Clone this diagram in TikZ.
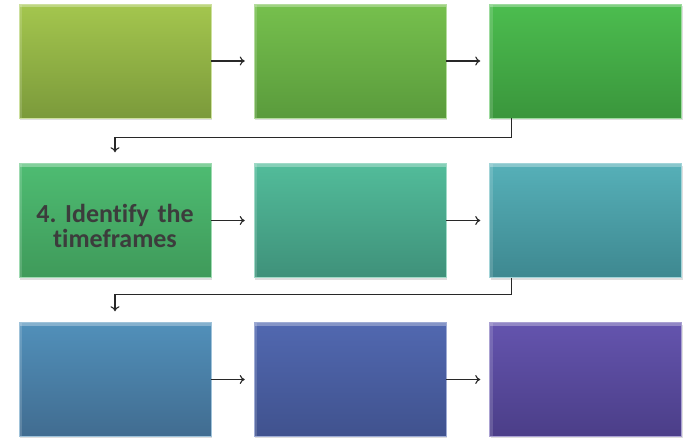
\documentclass[tikz,border=0pt]{standalone}
\usepackage{fontspec}
\newfontfamily\carlito[Ligatures=NoCommon]{Carlito}
\usetikzlibrary{shadows,arrows.meta}
\definecolor{linegrey}{RGB}{40,40,40}
\definecolor{textgrey}{RGB}{60,60,60}
\definecolor{top1}{RGB}{164,198,78}  \definecolor{bot1}{RGB}{123,154,59}
\definecolor{top2}{RGB}{118,192,77}  \definecolor{bot2}{RGB}{90,155,60}
\definecolor{top3}{RGB}{76,189,79}   \definecolor{bot3}{RGB}{58,150,60}
\definecolor{top4}{RGB}{78,188,114}  \definecolor{bot4}{RGB}{63,154,90}
\definecolor{top5}{RGB}{82,188,154}  \definecolor{bot5}{RGB}{63,145,122}
\definecolor{top6}{RGB}{86,176,184}  \definecolor{bot6}{RGB}{62,136,144}
\definecolor{top7}{RGB}{81,144,186}  \definecolor{bot7}{RGB}{65,108,144}
\definecolor{top8}{RGB}{81,104,176}  \definecolor{bot8}{RGB}{64,82,142}
\definecolor{top9}{RGB}{100,84,174}  \definecolor{bot9}{RGB}{75,62,136}
\tikzset{stage/.style={rectangle,minimum width=192pt,minimum height=114pt,inner sep=0pt,
  top color=top#1,bottom color=bot#1,draw=top#1!55!white,line width=0.5pt,
  drop shadow={shadow xshift=1pt,shadow yshift=-2pt,opacity=0.25},
  path picture={\fill[white,opacity=0.3] (path picture bounding box.north west) rectangle ([yshift=-3pt]path picture bounding box.north east);
    \fill[white,opacity=0.15] (path picture bounding box.north west) rectangle ([xshift=3pt]path picture bounding box.south west);}}}
\tikzset{link/.style={draw=linegrey,line width=1.1pt,-{To[length=5pt,width=9pt]},shorten >=9pt}}
\tikzset{elbow/.style={link,shorten >=11pt}}
\tikzset{label/.style={text=textgrey,font=\carlito\bfseries\frenchspacing\fontsize{26}{25}\selectfont,text width=180pt,align=center}}

\begin{document}
\begin{tikzpicture}[x=1pt,y=-1pt]
    \useasboundingbox (0,0) rectangle (688,437);
    \node[stage=1] (s1) at (115,61) {};
    \node[stage=2] (s2) at (350,61) {};
    \node[stage=3] (s3) at (585.5,61) {};
    \node[stage=4] (s4) at (115,220.5) {};
    \node[stage=5] (s5) at (350,220.5) {};
    \node[stage=6] (s6) at (585.5,220.5) {};
    \node[stage=7] (s7) at (115,379.5) {};
    \node[stage=8] (s8) at (350,379.5) {};
    \node[stage=9] (s9) at (585.5,379.5) {};
    \node[label] (t4) at ([yshift=-5pt]s4.center) {4. Identify the timeframes};
    \draw[link] (s1) -- (s2);
    \draw[link] (s2) -- (s3);
    \draw[link] (s4) -- (s5);
    \draw[link] (s5) -- (s6);
    \draw[link] (s7) -- (s8);
    \draw[link] (s8) -- (s9);
    \draw[elbow] ([xshift=22pt]s3.south west) -- ++(0,19) -| (s4.north);
    \draw[elbow] ([xshift=22pt]s6.south west) -- ++(0,17) -| (s7.north);
\end{tikzpicture}
\end{document}
